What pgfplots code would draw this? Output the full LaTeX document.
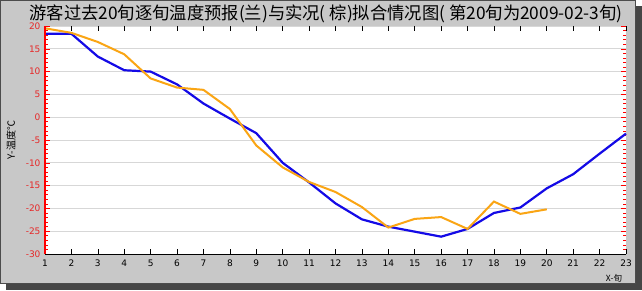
\documentclass[border=0pt]{standalone}
\usepackage{pgfplots}
\pgfplotsset{compat=1.18}
\usepackage{fontspec}
\setmainfont{DejaVu Sans}
\newfontfamily\cjk{Noto Sans CJK SC}
\definecolor{panel}{RGB}{200,200,200}
\definecolor{shadow}{RGB}{70,70,70}
\definecolor{fcblue}{RGB}{20,10,230}
\definecolor{obsorange}{RGB}{250,165,20}
\definecolor{gridgray}{RGB}{215,215,215}
\definecolor{ticklab}{RGB}{230,40,40}
\newcommand{\op}{(\kern4pt}
\begin{document}
\begin{tikzpicture}[x=1pt,y=1pt]
\fill[shadow] (6,0) rectangle (642,284);
\fill[panel] (0,6) rectangle (636,290);
\draw[black!70,line width=0.8pt] (0.4,6.4) rectangle (635.6,289.6);
\node[anchor=base west,font=\cjk\fontsize{17.3}{19}\selectfont] at (26,270.5) {游客过去20旬逐旬温度预报(兰)与实况\op 棕)拟合情况图\op 第20旬为2009-02-3旬)};
\begin{axis}[
  at={(45pt,36pt)}, anchor=south west,
  scale only axis, width=581pt, height=228pt,
  xmin=1, xmax=23, ymin=-30, ymax=20,
  axis background/.style={fill=white},
  axis line style={draw=none},
  xtick={1,...,23},
  ytick={-30,-25,...,20},
  minor y tick num=4,
  ymajorgrids, major grid style={gridgray, line width=0.8pt},
  tick align=inside,
  xtick style={black, line width=0.6pt},
  ytick style={red, line width=0.6pt},
  major tick length=5pt, minor tick length=3pt,
  xticklabel style={font=\fontsize{9}{10}\selectfont, black, yshift=-2pt},
  yticklabel style={font=\fontsize{9}{10}\selectfont, ticklab, xshift=-1pt},
  /pgf/number format/assume math mode=true,
  clip=false,
]
\addplot[fcblue, line width=2.2pt] coordinates {
 (1,18.3) (2,18.3) (3,13.3) (4,10.3) (5,10) (6,7.2) (7,3) (8,-0.3) (9,-3.5) (10,-10)
 (11,-14.3) (12,-18.9) (13,-22.4) (14,-24) (15,-25.1) (16,-26.2) (17,-24.5) (18,-21)
 (19,-19.8) (20,-15.6) (21,-12.5) (22,-8) (23,-3.6)};
\addplot[obsorange, line width=2pt] coordinates {
 (1,19.5) (2,18.5) (3,16.5) (4,13.8) (5,8.5) (6,6.5) (7,6) (8,1.8) (9,-6.2) (10,-11)
 (11,-14.2) (12,-16.4) (13,-19.7) (14,-24.2) (15,-22.3) (16,-21.9) (17,-24.5) (18,-18.5)
 (19,-21.2) (20,-20.2)};
\draw[red, line width=1.4pt] (axis cs:1,-30) -- (axis cs:1,20);
\draw[black, line width=0.8pt] (axis cs:1,-30) -- (axis cs:23,-30);
\end{axis}
\node[rotate=90, font=\cjk\fontsize{10}{11}\selectfont, anchor=center] at (11,150) {Y-温度℃};
\node[font=\cjk\fontsize{8.5}{9}\selectfont, anchor=center] at (614,12) {X-旬};
\end{tikzpicture}
\end{document}
